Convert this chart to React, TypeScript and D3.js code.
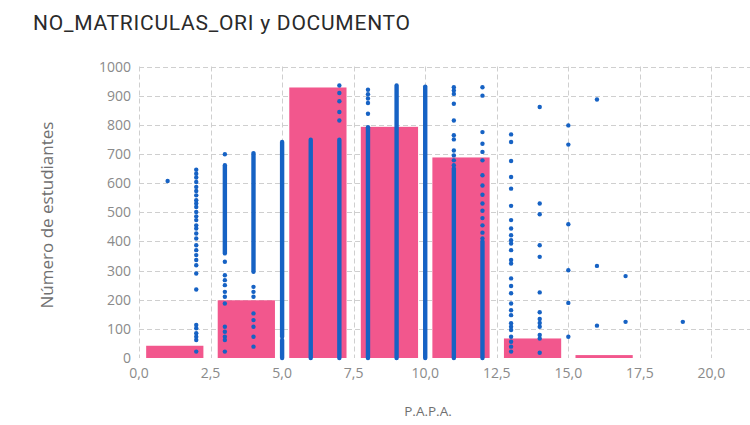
import React, { useEffect, useRef } from 'react';
import * as d3 from 'd3';

// histogram bins (P.A.P.A.) and their counts
const binStarts = [0, 2.5, 5, 7.5, 10, 12.5, 15];
const binCounts = [42, 198, 928, 793, 688, 67, 10];

const xTicks = [0, 2.5, 5, 7.5, 10, 12.5, 15, 17.5, 20, 22.5];
const yTicks = [0, 100, 200, 300, 400, 500, 600, 700, 800, 900, 1000];

// scattered dots, one list of y values per column
const dotCols = [1, 2, 3, 4, 7, 8, 11, 12, 13, 14, 15, 16, 17, 19];
const dotVals = [
  [607],
  [646, 632, 619, 604, 587, 573, 558, 541, 530, 518, 501, 486, 473, 455, 444, 427, 410, 387, 370, 353, 336, 318, 290, 235, 113, 102, 85, 73, 62, 22],
  [699, 330, 284, 267, 250, 227, 210, 187, 107, 90, 73, 62, 22],
  [244, 227, 210, 153, 130, 107, 73, 39],
  [935, 909, 881, 844, 815],
  [920, 905, 890, 875, 838],
  [929, 918, 906, 872, 815, 764, 750, 712, 695, 678, 661],
  [929, 900, 775, 735, 707, 678, 627, 592, 560, 530, 505, 480, 455, 430, 410],
  [767, 741, 676, 621, 581, 522, 473, 444, 421, 404, 393, 370, 336, 324, 273, 247, 222, 187, 164, 147, 119, 107, 96, 73, 56, 39, 22],
  [861, 530, 493, 387, 347, 225, 157, 134, 120, 107, 79, 67, 18],
  [798, 732, 459, 301, 189, 73],
  [887, 316, 111],
  [281, 124],
  [124]
];

// stretches where the dots are so dense they merge into a line
const runCols = [3, 4, 5, 5, 6, 7, 8, 9, 10, 11, 12];
const runLo = [359, 296, 73, 0, 0, 0, 0, 0, 0, 0, 0];
const runHi = [661, 703, 741, 62, 749, 749, 792, 935, 931, 650, 400];

const W = 750;
const H = 425;

export default function App() {
  const ref = useRef<SVGSVGElement>(null);

  useEffect(() => {
    const svg = d3.select(ref.current);
    svg.selectAll('*').remove();

    const left = 139, right = 783, top = 66.5, bottom = 358;
    const x = d3.scaleLinear().domain([0, 22.5]).range([left, right]);
    const y = d3.scaleLinear().domain([0, 1000]).range([bottom, top]);
    const fmt = (v: number) => d3.format('.1f')(v).replace('.', ',');
    const grey = '#8a8a8a';

    svg.append('rect').attr('width', W).attr('height', H).attr('fill', 'white');

    svg.append('text')
      .attr('x', 33).attr('y', 30)
      .attr('font-family', 'Roboto, sans-serif')
      .attr('font-size', 21)
      .attr('fill', '#2a2a2a')
      .attr('textLength', 377)
      .attr('lengthAdjust', 'spacing')
      .text('NO_MATRICULAS_ORI y DOCUMENTO');

    // grid
    const grid = svg.append('g')
      .attr('stroke', '#cfcfcf')
      .attr('stroke-width', 1)
      .attr('stroke-dasharray', '5,3');
    grid.selectAll('line.h').data(yTicks.filter(d => d > 0)).enter()
      .append('line')
      .attr('x1', left).attr('x2', right)
      .attr('y1', d => Math.round(y(d)) + 0.5).attr('y2', d => Math.round(y(d)) + 0.5);
    grid.selectAll('line.v').data(xTicks).enter()
      .append('line')
      .attr('y1', top).attr('y2', bottom)
      .attr('x1', d => Math.round(x(d)) + 0.5).attr('x2', d => Math.round(x(d)) + 0.5);

    // y tick labels
    svg.append('g').selectAll('text').data(yTicks).enter()
      .append('text')
      .attr('x', 131)
      .attr('y', d => y(d) + 5)
      .attr('text-anchor', 'end')
      .attr('font-family', 'Open Sans, sans-serif')
      .attr('font-size', 14)
      .attr('fill', grey)
      .text(d => d);

    // x tick labels (the last one falls outside the visible area)
    svg.append('g').selectAll('text').data(xTicks.filter(d => x(d) < W - 20)).enter()
      .append('text')
      .attr('x', d => x(d))
      .attr('y', 378)
      .attr('text-anchor', 'middle')
      .attr('font-family', 'Open Sans, sans-serif')
      .attr('font-size', 14)
      .attr('fill', grey)
      .text(d => fmt(d));

    svg.append('text')
      .attr('transform', 'translate(53,215)rotate(-90)')
      .attr('text-anchor', 'middle')
      .attr('font-family', 'Open Sans, sans-serif')
      .attr('font-size', 17)
      .attr('fill', '#707070')
      .text('Número de estudiantes');

    svg.append('text')
      .attr('x', 428).attr('y', 416)
      .attr('text-anchor', 'middle')
      .attr('font-family', 'Open Sans, sans-serif')
      .attr('font-size', 13.5)
      .attr('fill', '#707070')
      .text('P.A.P.A.');

    // bars
    const pad = 0.25;
    svg.append('g').selectAll('rect').data(binStarts).enter()
      .append('rect')
      .attr('x', d => x(d + pad))
      .attr('width', d => x(d + 2.5 - pad) - x(d + pad))
      .attr('y', (d, i) => y(binCounts[i]))
      .attr('height', (d, i) => bottom - y(binCounts[i]))
      .attr('fill', '#F2578D');

    const blue = '#1662C4';

    // dense runs
    svg.append('g').selectAll('line').data(runCols).enter()
      .append('line')
      .attr('x1', d => x(d)).attr('x2', d => x(d))
      .attr('y1', (d, i) => y(runLo[i]))
      .attr('y2', (d, i) => y(runHi[i]))
      .attr('stroke', blue)
      .attr('stroke-width', 4.4)
      .attr('stroke-linecap', 'round');

    // scattered dots
    const pts: [number, number][] = [];
    dotCols.forEach((c, i) => dotVals[i].forEach(v => pts.push([c, v])));
    svg.append('g').selectAll('circle').data(pts).enter()
      .append('circle')
      .attr('cx', d => x(d[0]))
      .attr('cy', d => y(d[1]))
      .attr('r', 2.2)
      .attr('fill', blue);
  }, []);

  return (
    <div>
      <style>{'body{margin:0}'}</style>
      <svg ref={ref} width={W} height={H} style={{ display: 'block' }} />
    </div>
  );
}
